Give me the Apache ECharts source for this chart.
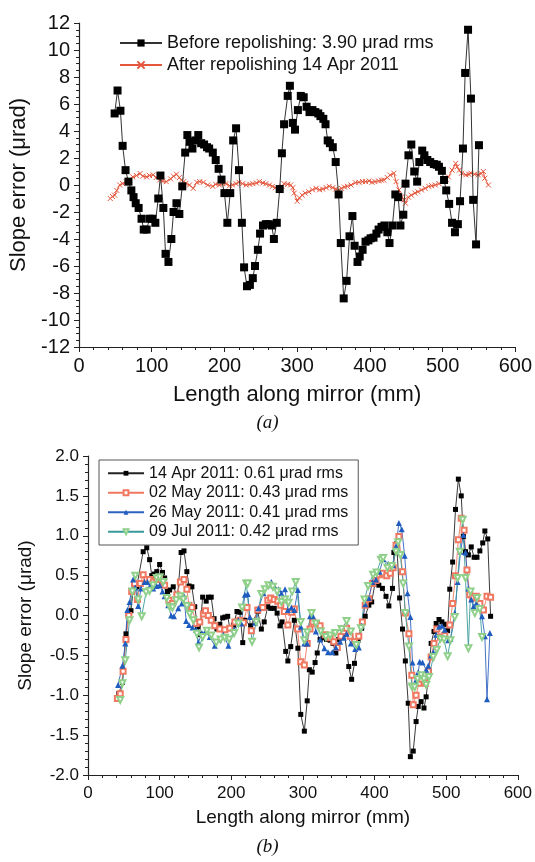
<!DOCTYPE html>
<html><head><meta charset="utf-8">
<script src="https://cdn.jsdelivr.net/npm/echarts@6/dist/echarts.min.js"></script>
<style>html,body{margin:0;padding:0;background:#fff}#c{width:535px;height:862px}</style>
</head><body><div id="c"></div>
<script>
// ---------- Panel (a) ----------
var beforeX = [49,53,57,60,64,68,72,75,78,82,86,89,93,97,101,105,109,112,116,119,123,127,130,134,138,142,146,149,152,156,160,164,168,172,176,179,184,188,192,196,200,204,208,212,216,220,224,227,231,235,239,242,246,249,253,257,261,265,268,272,276,279,282,287,290,294,297,301,305,309,313,317,321,325,329,332,336,339,342,345,349,353,357,360,364,368,372,376,379,383,386,390,394,398,401,405,409,412,416,420,424,427,431,435,439,442,446,449,453,457,461,465,468,472,475,479,483,488,492,495,499,502,505,509,513,517,521,524,528,531,535,539,542,546,550];
var beforeY = [5.3,7.0,5.5,2.9,1.1,0.25,-0.4,-0.9,-1.35,-1.7,-2.5,-3.3,-3.3,-2.5,-2.5,-2.8,-1.0,0.7,-1.7,-5.1,-5.7,-4.0,-2.0,-1.35,-2.15,-0.1,2.4,3.7,3.2,2.7,3.3,3.7,3.1,3.0,2.8,2.7,2.4,1.85,1.2,0.4,-0.6,-2.8,-0.6,3.3,4.2,1.1,-2.8,-6.1,-7.5,-7.4,-6.9,-6.0,-4.8,-3.6,-3.0,-2.9,-2.9,-3.0,-4.0,-2.8,-0.3,2.35,4.5,6.6,7.35,4.6,4.1,5.55,6.6,6.5,5.8,5.4,5.55,5.4,5.3,5.1,4.9,4.5,3.3,3.1,2.8,1.7,-0.7,-4.3,-8.4,-7.1,-3.8,-2.3,-4.5,-5.7,-5.3,-4.8,-4.2,-4.1,-3.95,-3.9,-3.6,-3.3,-3.1,-3.0,-3.5,-4.3,-3.0,-0.7,-0.9,-3.0,-2.2,0.1,2.2,3.0,1.0,0.25,1.7,2.55,2.2,1.85,1.7,1.55,1.5,1.35,1.05,0.37,-0.4,-1.4,-2.8,-3.5,-2.9,-1.2,2.7,8.3,11.5,6.4,-1.1,-4.4,2.95];
var afterX = [43,46,49,52,56,60,65,69,74,79,84,88,93,97,102,106,111,115,120,126,130,134,138,141,144,147,152,157,162,166,171,177,184,188,193,198,202,207,211,216,220,225,230,235,239,244,248,253,257,262,266,270,275,279,282,287,291,294,296,300,303,307,311,316,321,326,331,335,340,344,349,353,357,361,365,369,374,380,385,390,394,399,403,407,412,416,419,424,428,433,436,440,444,447,449,453,457,462,466,471,476,481,485,490,495,501,505,508,513,518,520,523,526,532,536,539,544,549,553,556,558,563];
var afterY = [-1.0,-0.85,-0.75,-0.4,0.0,0.1,0.25,0.4,0.6,0.7,0.85,0.65,0.6,0.7,0.75,0.55,0.37,0.3,0.25,0.45,0.65,0.8,0.55,0.37,0.25,0.12,0.0,-0.25,0.2,0.25,0.2,0.0,-0.1,0.05,0.0,0.1,0.1,-0.05,0.0,0.1,0.2,0.1,0.0,0.05,0.1,0.15,0.25,0.15,0.1,0.0,-0.1,-0.2,-0.25,-0.1,0.1,0.05,0.0,-0.2,-0.6,-1.2,-0.95,-0.75,-0.6,-0.5,-0.35,-0.25,-0.35,-0.3,-0.2,-0.1,-0.2,-0.3,-0.37,-0.25,-0.15,-0.1,0.0,0.17,0.2,0.25,0.25,0.3,0.2,0.25,0.3,0.35,0.37,0.55,0.74,0.87,0.25,-0.37,-0.87,-1.1,-1.35,-0.9,-0.75,-0.6,-0.5,-0.37,-0.25,-0.1,-0.05,0.0,0.1,0.25,0.4,0.6,1.1,1.6,1.35,1.1,0.87,0.75,0.8,0.87,0.8,0.75,0.85,1.0,0.5,0.0];
var nameBefore = 'Before repolishing: 3.90 \u03bcrad rms';
var nameAfter = 'After repolishing 14 Apr 2011';

// ---------- Panel (b) ----------
var aprX = [43,45,48,53,56,60,64,68,77,82,86,89,92.5,96,100,104,107,111,114,119,125,130,134,138,141,145,149,153,156,160,165,168,172,176,180,184,188,191,195,198,203,208,212,216,219,227,237,242,246,251,255,260,264,268,271,276,279,283,288,293,297,302,306,309,313,317,320,324,328,333,338,342,346,350,354,358,364,368,372,377,382,387,392,396,401,406,411,416,420,425,427,431,435,439,443,447,450,454,458,461,465,469,472,476,479,483,486,490,494,498,502,505,509,513,517,521,524,527,531,535,539,543,547,551,554,558,562];
var aprY = [-0.98,-0.98,-0.84,-0.23,0.02,0.06,0.4,0.36,0.8,0.85,0.7,0.5,0.52,0.55,0.64,0.54,0.47,0.3,0.32,0.36,0.24,0.79,0.81,0.55,0.37,0.36,0.11,-0.14,-0.24,0.23,0.18,0.23,0.23,-0.04,-0.17,-0.11,-0.03,-0.02,-0.01,-0.16,-0.12,0.05,0.04,-0.34,-0.06,-0.13,0.05,-0.17,-0.08,0.11,0.09,0.09,0.03,-0.13,-0.08,-0.45,-0.57,-0.39,-0.06,-0.41,-1.24,-1.45,-1.07,-0.68,-0.71,-0.59,-0.47,-0.3,-0.28,-0.3,-0.31,-0.35,-0.47,-0.3,-0.25,-0.23,-0.64,-0.8,-0.6,-0.31,-0.16,-0.01,0.13,0.17,0.42,0.38,0.34,0.24,0.12,0.34,0.79,0.9,0.22,-0.17,-0.57,-1.1,-1.77,-1.7,-1.33,-1.14,-1.08,-1.16,-1.02,-0.7,-0.35,-0.2,-0.1,-0.05,-0.08,-0.11,-0.19,0.33,0.67,1.33,1.71,1.5,0.99,0.8,0.76,0.86,0.73,0.73,0.81,0.91,1.06,0.96,-0.01];
var mayX = [41,45,49,53,57,61,65,69,73,77,82,86,91,96,100,104,107,113,118,124,129,134,138,141,145,151,156,161,164,168,172,177,184,191,198,205,212,217,222,228,237,244,251,255,260,265,269,274,279,284,288,292.5,297,302,306,310,314,319,324,331,338,343,348,353,357,361,366,372,378,383,387,392,397,402,407,411,417,422,426,430,434,439,443,448,452,454,458,462,466,471,475,479,483,487,492,498,505,509,513,517,521,525,529,533,537,542,547,552,557,562];
var mayY = [-1.04,-0.98,-0.7,-0.3,0.0,0.3,0.4,0.2,0.4,0.51,0.45,0.45,0.42,0.45,0.47,0.42,0.38,0.19,0.15,0.26,0.42,0.45,0.33,0.13,0.1,-0.1,-0.08,0.02,0.06,0.0,-0.06,-0.13,-0.17,-0.18,-0.16,-0.08,-0.06,-0.09,0.1,-0.19,0.07,0.1,0.19,0.22,0.2,0.18,0.13,0.05,-0.12,0.04,0.08,-0.17,-0.58,-0.62,-0.35,-0.17,-0.08,-0.1,-0.13,-0.24,-0.28,-0.33,-0.4,-0.26,-0.2,-0.16,-0.26,-0.33,-0.26,-0.08,0.13,0.21,0.4,0.44,0.51,0.53,0.5,0.53,0.6,0.88,0.99,0.55,0.03,-0.23,-0.75,-1.12,-1.0,-0.85,-0.8,-0.85,-0.7,-0.52,-0.35,-0.17,-0.27,-0.25,-0.12,0.15,0.5,0.95,1.22,1.07,0.57,0.26,0.22,0.24,0.15,0.07,0.24,0.23];
var may26X = [42,48,52,55,58,63,66,70,74,79,83,87,91,96,100,104,107,112,116,120,126,131,134,137,141,146,151,154,159,164,170,177,183,189,196,204,210,214,219,223,226,233,238,245,251,256,260,266,270,275,279,284,288,293,297,302,306,310,314,318,324,330,335,341,346,352,357,361,367,373,378,382,387,392,397,402,407,412,419,426,430,434,438,442,446,450,453,457,461,463,467,472,475,479,482,486,490,494,498,503,506,512,516,520,524,527,531,535,538,542,546,550,554,557,561];
var may26Y = [-0.87,-0.63,-0.35,0.07,0.17,0.45,0.35,0.12,0.34,0.42,0.42,0.38,0.34,0.37,0.38,0.3,0.24,0.13,0.0,-0.01,0.09,0.15,0.24,-0.07,-0.12,-0.15,-0.18,-0.34,-0.22,-0.2,-0.27,-0.38,-0.3,-0.24,-0.38,-0.18,-0.06,-0.1,0.26,0.27,-0.02,-0.09,0.09,0.28,0.38,0.42,0.37,0.33,0.28,0.33,0.07,0.1,0.07,0.32,-0.14,-0.35,-0.35,-0.01,-0.01,-0.2,-0.3,-0.41,-0.46,-0.46,-0.4,-0.33,-0.28,-0.23,-0.35,-0.42,-0.4,-0.13,0.14,0.22,0.42,0.45,0.55,0.71,0.65,0.63,0.87,1.16,1.08,0.75,0.28,-0.02,-0.59,-0.83,-0.71,-0.58,-0.59,-0.68,-0.63,-0.5,-0.46,-0.24,-0.14,-0.13,-0.18,-0.31,-0.29,0.03,0.42,0.8,1.01,0.79,0.34,0.2,0.11,0.15,0.11,-0.01,-0.26,-1.05,-0.22];
var julX = [45,48,52,58,62,66,70,75,81,86,91,96,100,105,110,114,118,123,129,133,138,142,147,152,155,160,166,172,179,185,191,197,204,210,215,221,223,229,235,242,247,252,258,264,270,275,280,285,290,297,302,306,312,318,325,332,338,345,354,361,367,374.5,381,386,391,398,403,409,412,418,424,430,433,436,440,443,448,452,456,460,465,469,472,476,482,487,492,497,502,506,512,516,519,523,527,531,534,540,543,547,550];
var julY = [-1.06,-0.85,-0.56,-0.06,0.3,0.5,0.2,-0.01,0.29,0.31,0.38,0.47,0.48,0.42,0.22,0.11,0.1,0.19,0.24,0.2,0.12,0.02,-0.06,-0.23,-0.4,-0.27,-0.19,-0.25,-0.34,-0.3,-0.28,-0.3,-0.22,-0.1,0.1,0.4,0.4,-0.33,-0.08,0.27,0.33,0.38,0.36,0.3,0.17,0.2,0.16,0.3,0.42,-0.08,-0.31,-0.21,0.03,-0.1,-0.2,-0.27,-0.25,-0.22,-0.17,-0.07,-0.2,-0.37,-0.16,0.2,0.37,0.51,0.54,0.7,0.72,0.6,0.62,0.8,0.92,0.76,0.4,0.03,-0.39,-0.89,-0.9,-0.8,-0.75,-0.8,-0.87,-0.77,-0.52,-0.43,-0.29,-0.3,-0.51,-0.31,-0.02,0.47,0.8,1.2,0.47,-0.41,0.3,0.03,0.22,0.08,-0.27];
var nameApr = '14 Apr 2011: 0.61 \u03bcrad rms';
var nameMay = '02 May 2011: 0.43 \u03bcrad rms';
var nameMay26 = '26 May 2011: 0.41 \u03bcrad rms';
var nameJul = '09 Jul 2011: 0.42 \u03bcrad rms';

function pairs(xs, ys){ return xs.map(function(x,i){ return [x, ys[i]]; }); }

var FF = 'Liberation Sans, Arial, sans-serif';
function xAx(gi, fs, gap, lm){
  return {type:'value', gridIndex:gi, min:0, max:600, interval:100,
    name:'Length along mirror (mm)', nameLocation:'middle', nameGap:gap,
    nameTextStyle:{fontFamily:FF, fontSize:fs+2, color:'#111'},
    axisLine:{onZero:false, lineStyle:{color:'#222', width:1.2}},
    axisTick:{length:5, lineStyle:{color:'#222'}},
    minorTick:{show:true, splitNumber:5, length:3, lineStyle:{color:'#222'}},
    splitLine:{show:false},
    axisLabel:{fontFamily:FF, fontSize:fs, color:'#111', margin:lm}};
}
function yAx(gi, fs, min, max, itv, minorSplit, gap, fmt){
  return {type:'value', gridIndex:gi, min:min, max:max, interval:itv,
    name:'Slope error (\u03bcrad)', nameLocation:'middle', nameGap:gap,
    nameTextStyle:{fontFamily:FF, fontSize:fs+2, color:'#111'},
    axisLine:{show:true, onZero:false, lineStyle:{color:'#222', width:1.2}},
    axisTick:{show:true, length:5, lineStyle:{color:'#222'}},
    minorTick:{show:true, splitNumber:minorSplit, length:3, lineStyle:{color:'#222'}},
    splitLine:{show:false},
    axisLabel:{fontFamily:FF, fontSize:fs, color:'#111', margin:9, formatter:fmt}};
}

var chart = echarts.init(document.getElementById('c'), null, {renderer:'canvas'});
chart.setOption({
  animation:false,
  backgroundColor:'#fff',
  grid:[
    {left:79, right:18, top:23, height:324},
    {left:88, right:17, top:456, height:319}
  ],
  xAxis:[xAx(0, 20, 37, 9), xAx(1, 17, 33, 10)],
  yAxis:[
    yAx(0, 20, -12, 12, 2, 4, 46, function(v){ return String(v); }),
    yAx(1, 17, -2, 2, 0.5, 5, 53, function(v){ return v.toFixed(1); })
  ],
  legend:[
    {data:[nameBefore, nameAfter], orient:'vertical', left:114, top:28, itemWidth:42, itemHeight:9, itemGap:2,
     textStyle:{fontFamily:FF, fontSize:18, color:'#111', lineHeight:20}},
    {data:[nameApr, nameMay, nameMay26, nameJul], orient:'vertical', left:99, top:460,
     itemWidth:36, itemHeight:6, itemGap:1, padding:[4,10,4,8],
     borderColor:'#555', borderWidth:1,
     textStyle:{fontFamily:FF, fontSize:16, color:'#111', lineHeight:18.5}}
  ],
  series:[
    {name:nameBefore, type:'line', xAxisIndex:0, yAxisIndex:0, data:pairs(beforeX, beforeY),
     symbol:'rect', symbolSize:8, itemStyle:{color:'#000'}, lineStyle:{color:'#333', width:1}, z:3},
    {name:nameAfter, type:'line', xAxisIndex:0, yAxisIndex:0, data:pairs(afterX, afterY),
     symbol:'path://M0,0L10,10M10,0L0,10', symbolSize:5,
     itemStyle:{color:'rgba(0,0,0,0)', borderColor:'#e4573d', borderWidth:1},
     lineStyle:{color:'#e4573d', width:1}, z:2},
    {name:nameApr, type:'line', xAxisIndex:1, yAxisIndex:1, data:pairs(aprX, aprY),
     symbol:'rect', symbolSize:5, itemStyle:{color:'#000'}, lineStyle:{color:'#222', width:0.9}},
    {name:nameMay, type:'line', xAxisIndex:1, yAxisIndex:1, data:pairs(mayX, mayY),
     symbol:'emptyRect', symbolSize:5, itemStyle:{color:'#f07860', borderWidth:1}, lineStyle:{color:'#f07860', width:0.9}},
    {name:nameMay26, type:'line', xAxisIndex:1, yAxisIndex:1, data:pairs(may26X, may26Y),
     symbol:'triangle', symbolSize:6, itemStyle:{color:'#1f5cbf'}, lineStyle:{color:'#2f62c0', width:0.9}},
    {name:nameJul, type:'line', xAxisIndex:1, yAxisIndex:1, data:pairs(julX, julY),
     symbol:'emptyTriangle', symbolRotate:180, symbolSize:6, itemStyle:{color:'#8fd08a', borderWidth:1}, lineStyle:{color:'#3a9a9a', width:0.9}}
  ],
  graphic:[
    {type:'text', left:'center', top:413, style:{text:'(a)', font:'italic 19px "Liberation Serif", serif', fill:'#111'}},
    {type:'text', left:'center', top:837, style:{text:'(b)', font:'italic 19px "Liberation Serif", serif', fill:'#111'}}
  ]
});
</script>
</body></html>
